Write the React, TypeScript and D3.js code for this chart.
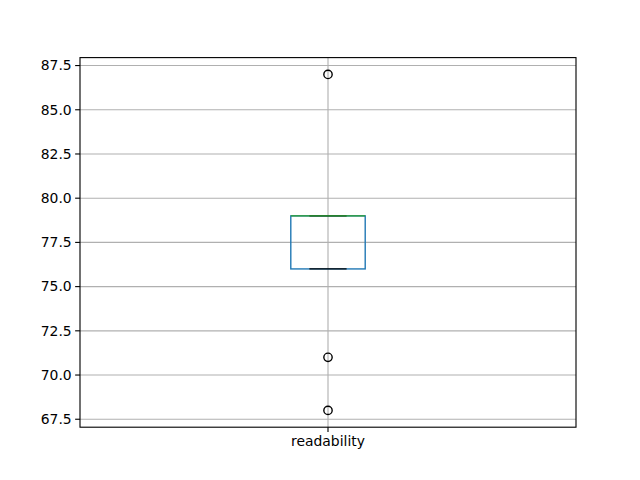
import React from "react";
import * as d3 from "d3";

const categories = ["readability"];
const q1Values = [76];
const medianValues = [79];
const q3Values = [79];
const whiskerLow = [76];
const whiskerHigh = [79];
const outliers = [[87, 71, 68]];
const yTicks = [67.5, 70.0, 72.5, 75.0, 77.5, 80.0, 82.5, 85.0, 87.5];

export default function App() {
  const W = 640, H = 480;
  const L = 80, R = 576, T = 57.6, B = 427.2;
  const y = d3.scaleLinear().domain([67.05, 87.95]).range([B, T]);
  const x = d3.scaleLinear().domain([0.5, 1.5]).range([L, R]);
  const font = "DejaVu Sans, sans-serif";
  return (
    <svg width={W} height={H} style={{ position: "absolute", left: 0, top: 0, background: "#fff" }}>
      <rect x={0} y={0} width={W} height={H} fill="#fff" />
      {/* grid */}
      {yTicks.map((t) => (
        <line key={"g" + t} x1={L} x2={R} y1={y(t)} y2={y(t)} stroke="#b0b0b0" strokeWidth={1.11} />
      ))}
      {categories.map((c, i) => (
        <line key={"gx" + c} x1={x(i + 1)} x2={x(i + 1)} y1={T} y2={B} stroke="#b0b0b0" strokeWidth={1.11} />
      ))}
      {categories.map((c, i) => {
        const cx = x(i + 1);
        const bw = x(1.075) - x(1);
        const cw = bw / 2;
        return (
          <g key={c}>
            <line x1={cx} x2={cx} y1={y(q1Values[i])} y2={y(whiskerLow[i])} stroke="#1f77b4" strokeWidth={1.39} />
            <line x1={cx} x2={cx} y1={y(q3Values[i])} y2={y(whiskerHigh[i])} stroke="#1f77b4" strokeWidth={1.39} />
            <rect x={cx - bw} y={y(q3Values[i])} width={2 * bw} height={y(q1Values[i]) - y(q3Values[i])} fill="none" stroke="#1f77b4" strokeWidth={1.39} />
            <line x1={cx - cw} x2={cx + cw} y1={y(whiskerLow[i])} y2={y(whiskerLow[i])} stroke="#000" strokeWidth={1.39} />
            <line x1={cx - cw} x2={cx + cw} y1={y(whiskerHigh[i])} y2={y(whiskerHigh[i])} stroke="#000" strokeWidth={1.39} />
            <line x1={cx - bw} x2={cx + bw} y1={y(medianValues[i])} y2={y(medianValues[i])} stroke="#2ca02c" strokeWidth={1.39} />
            {outliers[i].map((v, j) => (
              <circle key={j} cx={cx} cy={y(v)} r={4.17} fill="none" stroke="#000" strokeWidth={1.39} />
            ))}
          </g>
        );
      })}
      {/* axes frame */}
      <rect x={L} y={T} width={R - L} height={B - T} fill="none" stroke="#000" strokeWidth={1.11} />
      {yTicks.map((t) => (
        <g key={"t" + t}>
          <line x1={L - 4.86} x2={L} y1={y(t)} y2={y(t)} stroke="#000" strokeWidth={1.11} />
          <text x={L - 8.3} y={y(t)} dy="0.35em" textAnchor="end" fontFamily={font} fontSize={13.9} fill="#000">
            {t.toFixed(1)}
          </text>
        </g>
      ))}
      {categories.map((c, i) => (
        <g key={"xt" + c}>
          <line x1={x(i + 1)} x2={x(i + 1)} y1={B} y2={B + 4.86} stroke="#000" strokeWidth={1.11} />
          <text x={x(i + 1)} y={B + 8.3} dy="0.76em" textAnchor="middle" fontFamily={font} fontSize={13.9} fill="#000">
            {c}
          </text>
        </g>
      ))}
    </svg>
  );
}
